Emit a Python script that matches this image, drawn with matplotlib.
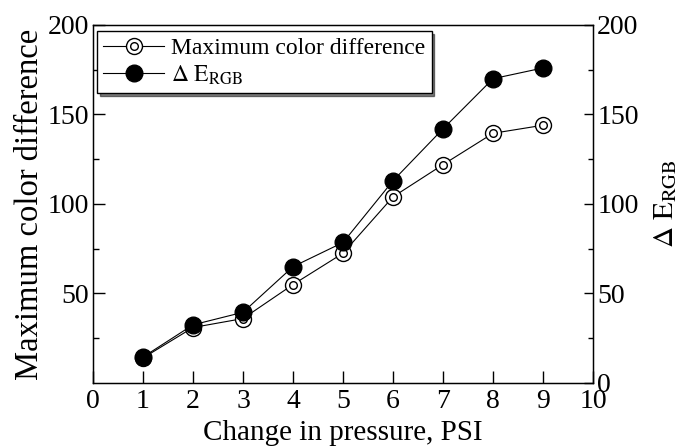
import matplotlib
matplotlib.use('Agg')
import matplotlib.pyplot as plt
from matplotlib.ticker import MultipleLocator, FixedLocator
from matplotlib.legend_handler import HandlerTuple

plt.rcParams['font.family'] = ['Liberation Serif', 'DejaVu Serif']
plt.rcParams['mathtext.fontset'] = 'stix'

# pressure change (PSI) and the two colour-difference series
pressure = [1, 2, 3, 4, 5, 6, 7, 8, 9]
max_color_diff = [14, 31, 36, 55, 72.5, 104, 122, 139.5, 144]
delta_e_rgb = [14.5, 32.5, 39.5, 65, 78.5, 113, 142, 170, 176]

fig = plt.figure(figsize=(6.8, 4.48), dpi=100)
ax = fig.add_axes([0.1368, 0.1451, 0.7353, 0.7991])

# double circle markers for max colour difference
l_open, = ax.plot(pressure, max_color_diff, color='black', lw=0.8, marker='o',
                  markersize=11.5, markerfacecolor='white', markeredgecolor='black',
                  markeredgewidth=1.0, zorder=3)
l_inner, = ax.plot(pressure, max_color_diff, ls='none', marker='o', markersize=5.5,
                   markerfacecolor='white', markeredgecolor='black',
                   markeredgewidth=1.0, zorder=4)
# filled circles for delta E, drawn on top
l_fill, = ax.plot(pressure, delta_e_rgb, color='black', lw=0.8, marker='o',
                  markersize=12, markerfacecolor='black', markeredgecolor='black', zorder=5)

ax.set_xlim(0, 10)
ax.set_ylim(0, 200)
ax.xaxis.set_major_locator(FixedLocator(range(0, 11)))
ax.yaxis.set_major_locator(FixedLocator([50, 100, 150, 200]))
ax.yaxis.set_minor_locator(FixedLocator([25, 75, 125, 175]))
ax.tick_params(axis='x', direction='in', length=8.5, width=1, labelsize=20, top=False, pad=4)
ax.tick_params(axis='y', which='major', direction='in', length=8.5, width=1, labelsize=20, pad=3)
ax.tick_params(axis='y', which='minor', direction='in', length=4.3, width=1)
ax.set_xlabel('Change in pressure, PSI', fontsize=21, labelpad=4.5)
ax.set_ylabel('Maximum color difference', fontsize=23.5, labelpad=2)
for s in ax.spines.values():
    s.set_linewidth(1)

ax2 = ax.twinx()
ax2.set_ylim(0, 200)
ax2.yaxis.set_major_locator(MultipleLocator(50))
ax2.yaxis.set_minor_locator(FixedLocator([25, 75, 125, 175]))
ax2.tick_params(axis='y', which='major', direction='in', length=6.5, width=1, labelsize=20, pad=3)
ax2.tick_params(axis='y', which='minor', direction='in', length=3.3, width=1)
ax2.set_ylabel(r'$\Delta\ \mathrm{E}_{\mathrm{RGB}}$', fontsize=21, labelpad=10)

leg = ax.legend([(l_open, l_inner), l_fill],
                ['Maximum color difference', r'$\Delta\ \mathrm{E}_{\mathrm{RGB}}$'],
                handler_map={tuple: HandlerTuple(ndivide=1)},
                loc='upper left', bbox_to_anchor=(0.008, 0.982), fontsize=17,
                frameon=True, fancybox=False, edgecolor='black', shadow={'color': 'black'},
                borderpad=0.25, labelspacing=0.2, handlelength=2.6, handletextpad=0.3,
                borderaxespad=0.0)
leg.get_frame().set_linewidth(1)

fig.savefig('out.png', dpi=100)
